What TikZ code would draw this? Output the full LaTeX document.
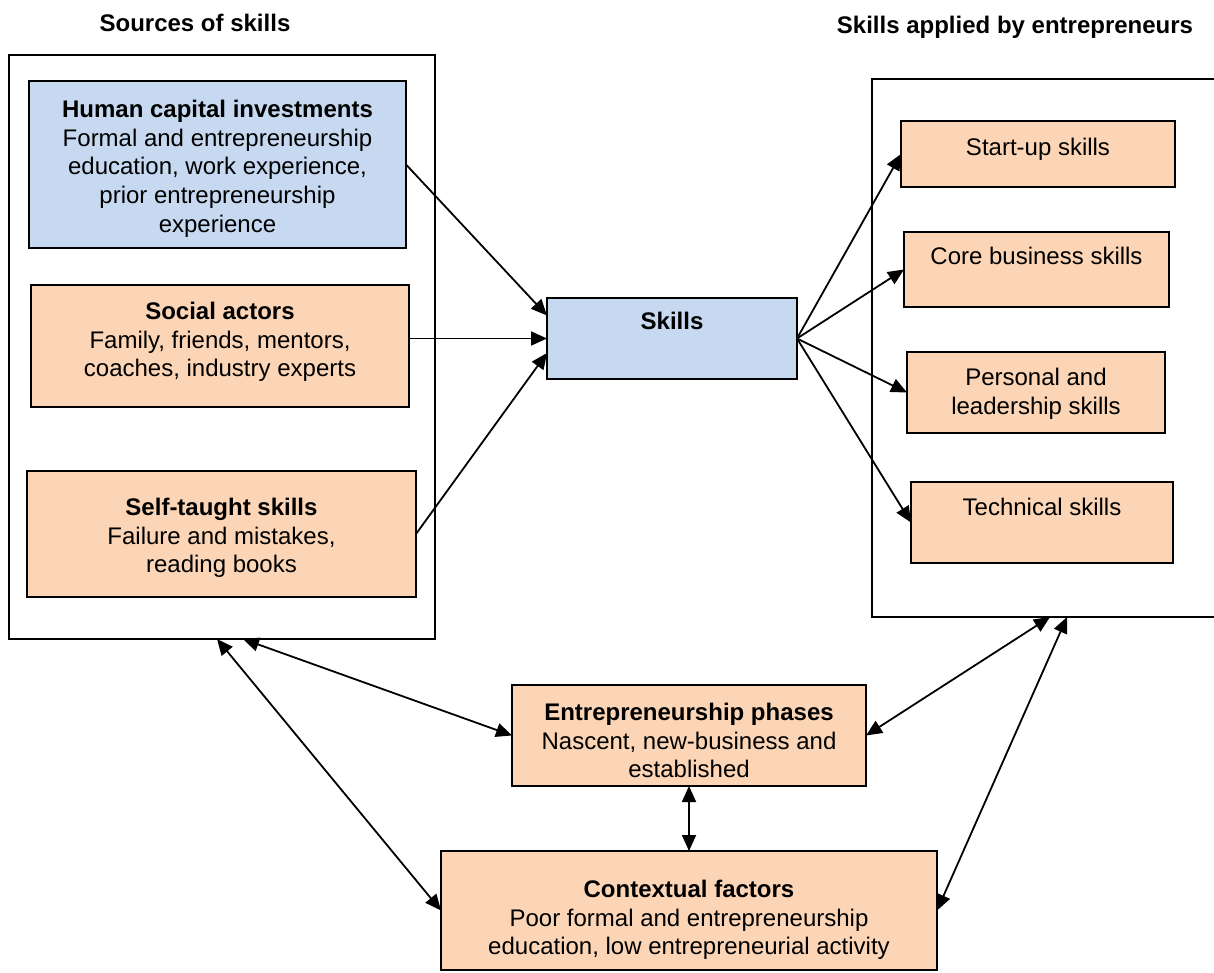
\documentclass[tikz,border=0pt]{standalone}
\usepackage{fontspec}
\setmainfont{Liberation Sans}
\usetikzlibrary{arrows.meta,calc,fit}

\definecolor{boxblue}{HTML}{C6D9F1}
\definecolor{boxpeach}{HTML}{FBD5B5}

\begin{document}
\begin{tikzpicture}[x=0.5pt,y=-0.5pt,
  every node/.style={inner sep=0pt, outer sep=0pt},
  frame/.style={draw=black, line width=1pt},
  bluebox/.style={draw=black, line width=1pt, fill=boxblue},
  peachbox/.style={draw=black, line width=1pt, fill=boxpeach},
  boxtext/.style={anchor=north, align=center, font=\fontsize{12}{14.35}\selectfont},
  heading/.style={anchor=base, font=\fontsize{12}{14.35}\selectfont\bfseries},
  link/.style={line width=0.9pt, -{Triangle[length=8pt,width=7pt]}},
  duallink/.style={line width=0.9pt, {Triangle[length=8pt,width=7pt]}-{Triangle[length=8pt,width=7pt]}}
]
\useasboundingbox (0,0) rectangle (1214,973);

% column headings
\node[heading] (srcTitle) at (195,32) {Sources of skills};
\node[heading] (useTitle) at (1015,34) {Skills applied by entrepreneurs};

% frame around the sources of skills
\node[frame, fit={(9,55)(435,639)}] (srcframe) {};

% frame around the applied skills (open towards the right)
\draw[frame] (1214,79) -- (872,79) -- (872,617) -- (1214,617);
\coordinate (useA) at (1050,617);
\coordinate (useB) at (1067,617);

% sources
\node[bluebox, fit={(29,81)(406,248)}] (hc) {};
\node[boxtext] (hcT) at ($(hc.north)+(0,19)$)
  {\textbf{Human capital investments}\\Formal and entrepreneurship\\education, work experience,\\prior entrepreneurship\\experience};

\node[peachbox, fit={(31,285)(409,407)}] (sa) {};
\node[boxtext] (saT) at ($(sa.north)+(0,17)$)
  {\textbf{Social actors}\\Family, friends, mentors,\\coaches, industry experts};

\node[peachbox, fit={(27,471)(416,597)}] (st) {};
\node[boxtext] (stT) at ($(st.north)+(0,27)$)
  {\textbf{Self-taught skills}\\Failure and mistakes,\\reading books};

% central node
\node[bluebox, fit={(547,298)(797,379)}] (sk) {};
\node[boxtext] (skT) at ($(sk.north)+(0,14)$) {\textbf{Skills}};

% applied skills
\node[peachbox, fit={(901,121)(1175,187)}] (su) {};
\node[boxtext] (suT) at ($(su.north)+(0,17)$) {Start-up skills};

\node[peachbox, fit={(904,232)(1169,307)}] (cb) {};
\node[boxtext] (cbT) at ($(cb.north)+(0,15)$) {Core business skills};

\node[peachbox, fit={(907,352)(1165,433)}] (pl) {};
\node[boxtext] (plT) at ($(pl.north)+(0,16)$) {Personal and\\leadership skills};

\node[peachbox, fit={(911,482)(1173,563)}] (ts) {};
\node[boxtext] (tsT) at ($(ts.north)+(0,16)$) {Technical skills};

% phases and context
\node[peachbox, fit={(512,685)(866,786)}] (ep) {};
\node[boxtext] (epT) at ($(ep.north)+(0,18)$)
  {\textbf{Entrepreneurship phases}\\Nascent, new-business and\\established};

\node[peachbox, fit={(441,851)(937,970)}] (cf) {};
\node[boxtext] (cfT) at ($(cf.north)+(0,29)$)
  {\textbf{Contextual factors}\\Poor formal and entrepreneurship\\education, low entrepreneurial activity};

% sources feed the skills
\draw[link] (hc.east) -- ($(sk.west)+(0,-23)$);
\draw[link] (sa.east |- sk.west) -- (sk.west);
\draw[link] (st.east) -- ($(sk.west)+(0,14.5)$);

% skills fan out
\draw[link] (sk.east) -- (su.west);
\draw[link] (sk.east) -- (cb.west);
\draw[link] (sk.east) -- (pl.west);
\draw[link] (sk.east) -- (ts.west);

% mutual influences
\draw[duallink] ($(srcframe.south)+(-5,0)$) -- (cf.west);
\draw[duallink] ($(srcframe.south)+(21,0)$) -- (ep.west);
\draw[duallink] (useA) -- (ep.east);
\draw[duallink] (useB) -- (cf.east);
\draw[duallink] (ep.south) -- (cf.north);
\end{tikzpicture}
\end{document}
